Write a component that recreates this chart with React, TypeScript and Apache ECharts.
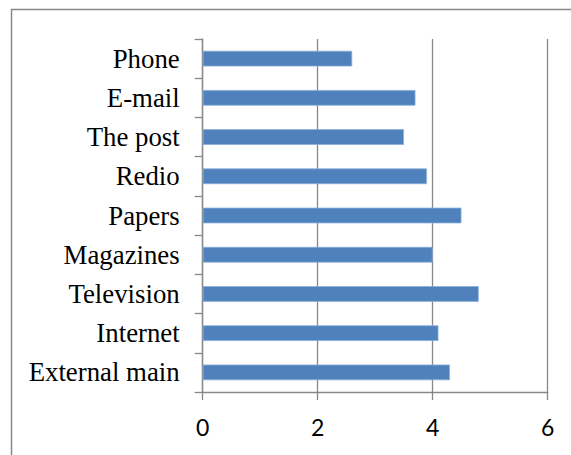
import React, { useEffect, useRef } from "react";
import * as echarts from "echarts";

const categories = [
  "External main",
  "Internet",
  "Television",
  "Magazines",
  "Papers",
  "Redio",
  "The post",
  "E-mail",
  "Phone",
];
const values = [4.3, 4.1, 4.8, 4.0, 4.5, 3.9, 3.5, 3.7, 2.6];
const xTicks = { min: 0, max: 6, interval: 2 };

export default function App() {
  const ref = useRef<HTMLDivElement>(null);
  useEffect(() => {
    if (!ref.current) return;
    const chart = echarts.init(ref.current, undefined, { renderer: "svg" });
    const gray = "#878787";
    chart.setOption({
      animation: false,
      backgroundColor: "#ffffff",
      graphic: [
        {
          type: "rect",
          shape: { x: 11.5, y: 9.5, width: 600, height: 500 },
          style: { fill: "none", stroke: gray, lineWidth: 1.5 },
          silent: true,
        },
      ],
      grid: { left: 202.7, top: 39, right: 23.3, bottom: 63, containLabel: false },
      xAxis: {
        type: "value",
        min: xTicks.min,
        max: xTicks.max,
        interval: xTicks.interval,
        axisLine: { show: true, lineStyle: { color: gray, width: 1.3 } },
        axisTick: { show: true, length: 8, lineStyle: { color: gray, width: 1.3 } },
        axisLabel: {
          color: "#000",
          fontFamily: "Lato",
          fontSize: 23,
          margin: 23,
        },
        splitLine: { show: true, lineStyle: { color: gray, width: 1.3 } },
      },
      yAxis: {
        type: "category",
        data: categories,
        axisLine: { show: true, lineStyle: { color: gray, width: 1.3 } },
        axisTick: { show: true, length: 8, lineStyle: { color: gray, width: 1.3 } },
        axisLabel: {
          color: "#000",
          fontFamily: "Liberation Serif",
          fontSize: 26.8,
          margin: 23,
        },
        splitLine: { show: false },
      },
      series: [
        {
          type: "bar",
          data: values,
          barWidth: "40%",
          itemStyle: {
            color: "#4F81BD",
            borderColor: "#8aaedb",
            borderWidth: 0.8,
          },
        },
      ],
    });
    return () => chart.dispose();
  }, []);
  return (
    <div
      ref={ref}
      style={{ position: "absolute", left: 0, top: 0, width: 571, height: 455 }}
    />
  );
}
